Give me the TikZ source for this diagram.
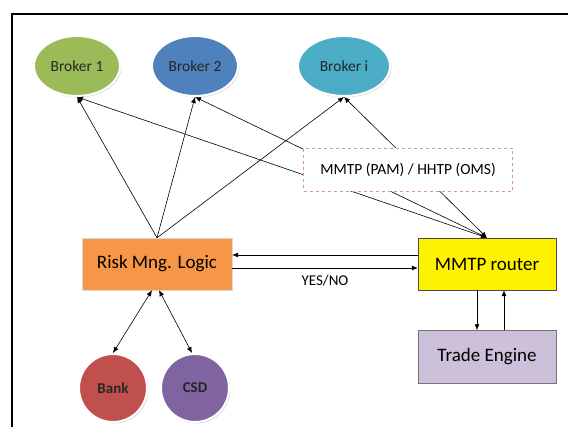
\documentclass[tikz,border=0pt]{standalone}
\usepackage{fontspec}
\setmainfont{Carlito}
\usetikzlibrary{arrows.meta,shapes.geometric,shadows}
\definecolor{brkgreen}{HTML}{9BBB59}
\definecolor{brkblue}{HTML}{4F81BD}
\definecolor{brkaqua}{HTML}{4BACC6}
\definecolor{riskorange}{HTML}{F79646}
\definecolor{tradelilac}{HTML}{CCC0DA}
\definecolor{bankred}{HTML}{C0504D}
\definecolor{csdpurple}{HTML}{8064A2}
\definecolor{protored}{HTML}{D99694}

\begin{document}
\begin{tikzpicture}[x=1pt, y=-1pt,
	brokernode/.style={ellipse, draw=white, line width=2pt, minimum width=86pt, minimum height=60pt, text=black!85,
		drop shadow={shadow xshift=1.5pt, shadow yshift=-1.5pt, fill=black!25}, font=\fontsize{15.5}{18}\selectfont},
	sitenode/.style={circle, draw=white, line width=2pt, minimum size=68pt, text=black!85,
		drop shadow={shadow xshift=1.5pt, shadow yshift=-1.5pt, fill=black!25}, font=\bfseries\fontsize{15}{18}\selectfont},
	boxnode/.style={rectangle, minimum width=138pt, minimum height=52pt, font=\fontsize{19}{22}\selectfont},
	conn/.style={-{Latex[length=6pt,width=5pt]}, line width=0.6pt},
	dconn/.style={{Latex[length=6pt,width=5pt]}-{Latex[length=6pt,width=5pt]}, line width=0.6pt}]
	%%%%% START %%%%%
	
	\useasboundingbox (0,0) rectangle (568,427);
	\draw[line width=2pt] (12,427) -- (12,14) -- (568,14);
	
	% brokers
	\node[brokernode, fill=brkgreen] (b1) at (77,66) {Broker 1};
	\node[brokernode, fill=brkblue] (b2) at (195,66) {Broker 2};
	\node[brokernode, fill=brkaqua, minimum width=92pt] (bi) at (344,66) {Broker i};
	
	% main boxes
	\node[boxnode, fill=riskorange, draw=black!15, minimum width=150pt] (risk) at (157,264) {Risk Mng. Logic};
	\node[boxnode, fill=yellow, draw=black!70] (router) at (487,264) {MMTP router};
	\node[boxnode, fill=tradelilac, draw=black!55, minimum height=53pt] (trade) at (487,357) {Trade Engine};
	
	% bank and csd
	\node[sitenode, fill=bankred] (bank) at (113,388) {Bank};
	\node[sitenode, fill=csdpurple] (csd) at (195,388) {CSD};
	
	% risk logic to brokers
	\draw[conn] (risk.north) -- (b1.south);
	\draw[conn] (risk.north) -- (b2.south);
	\draw[conn] (risk.north) -- (bi.south);
	
	% router to brokers
	\draw[dconn] (router.north) -- (b1.south);
	\draw[dconn] (router.north) -- (b2.south);
	\draw[dconn] (router.north) -- (bi.south);
	
	% risk logic and router
	\draw[conn] ([yshift=9pt]router.west) -- ([yshift=9pt]risk.east);
	\draw[conn] ([yshift=-4pt]risk.east) -- node[below=3pt, font=\fontsize{15}{18}\selectfont] {YES/NO} ([yshift=-4pt]router.west);
	
	% router and trade engine
	\draw[conn] ([xshift=-10pt]router.south) -- ([xshift=-10pt]trade.north);
	\draw[conn] ([xshift=17pt]trade.north) -- ([xshift=17pt]router.south);
	
	% bank and csd
	\draw[dconn] ([xshift=-5pt]risk.south) -- (bank.north);
	\draw[dconn] ([xshift=2pt]risk.south) -- ([xshift=-3pt]csd.north);
	
	% protocol label
	\node[rectangle, fill=white, draw=protored, dashed, line width=1pt, minimum width=209pt, minimum height=43pt,
		font=\fontsize{15.5}{18}\selectfont] (proto) at (408,170) {MMTP (PAM) / HHTP (OMS)};
	
	%%%%% END %%%%%
\end{tikzpicture}
\end{document}
